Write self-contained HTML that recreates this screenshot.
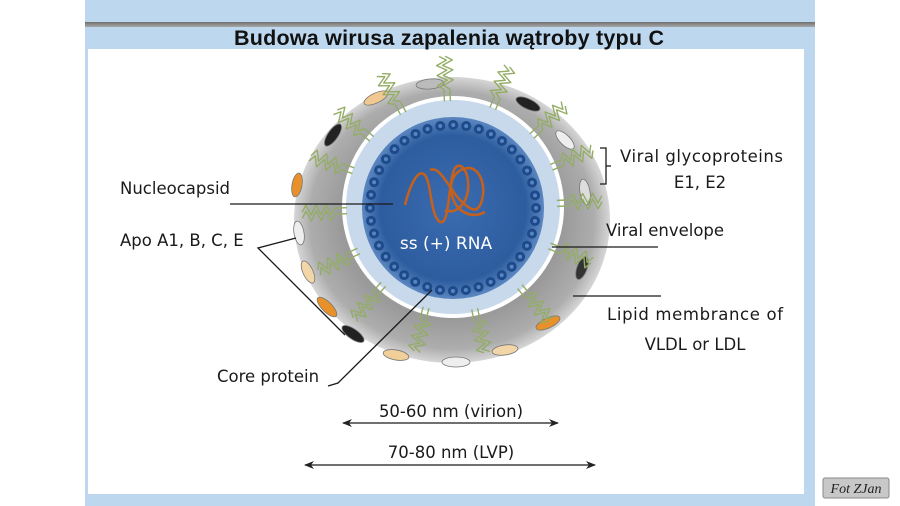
<!DOCTYPE html>
<html><head><meta charset="utf-8"><style>
html,body{margin:0;padding:0;width:900px;height:506px;overflow:hidden;background:#fff;}
</style></head><body>
<svg width="900" height="506" viewBox="0 0 900 506" xmlns="http://www.w3.org/2000/svg" font-family="'DejaVu Sans','Liberation Sans',sans-serif">
<defs>
<radialGradient id="gray" cx="50%" cy="50%" r="50%">
<stop offset="0.7" stop-color="#9a9a9a"/><stop offset="0.9" stop-color="#adadad"/><stop offset="1" stop-color="#d6d6d6"/>
</radialGradient>
<radialGradient id="core" cx="50%" cy="50%" r="50%">
<stop offset="0" stop-color="#3b6cb0"/><stop offset="0.8" stop-color="#2d5d9f"/><stop offset="1" stop-color="#5b86c0"/>
</radialGradient>
<linearGradient id="bar" x1="0" y1="0" x2="0" y2="1"><stop offset="0" stop-color="#6f6f6f"/><stop offset="1" stop-color="#a8a8a8"/></linearGradient>
<g id="gp" fill="none" stroke="#93ad66" stroke-width="1.4" stroke-linejoin="round">
<polyline points="-3,0 -3,-12 -9,-16 1,-21 -9,-26 1,-31 -9,-36 1,-41 -6,-45"/>
<polyline points="3,0 3,-12 -3,-16 7,-21 -3,-26 7,-31 -3,-36 7,-41 0,-45"/>
</g>
<marker id="ah" markerWidth="10" markerHeight="8" refX="9" refY="4" orient="auto-start-reverse" markerUnits="userSpaceOnUse"><path d="M0,0 L10,4 L0,8 L3,4Z" fill="#222"/></marker>
</defs>
<rect x="85" y="0" width="730" height="506" fill="#bdd7ee"/>
<rect x="85" y="22" width="730" height="5" fill="url(#bar)"/>
<rect x="88" y="49" width="716" height="445" fill="#fff"/>
<text x="449" y="45" text-anchor="middle" font-family="'Liberation Sans',sans-serif" font-weight="bold" font-size="21.5" fill="#111" textLength="430">Budowa wirusa zapalenia wątroby typu C</text>

<ellipse cx="452" cy="220" rx="158" ry="143" fill="url(#gray)"/>
<g stroke="#777" stroke-width="0.8">
<ellipse cx="430" cy="84" rx="14" ry="5" fill="#bbb" transform="rotate(-5 430 84)"/>
<ellipse cx="528" cy="104" rx="13" ry="5" fill="#222" transform="rotate(25 528 104)"/>
<ellipse cx="565" cy="140" rx="12" ry="5" fill="#eee" transform="rotate(45 565 140)"/>
<ellipse cx="585" cy="192" rx="13" ry="5" fill="#ddd" transform="rotate(80 585 192)"/>
<ellipse cx="582" cy="268" rx="12" ry="5" fill="#333" transform="rotate(110 582 268)"/>
<ellipse cx="548" cy="323" rx="13" ry="5" fill="#e8902a" transform="rotate(-25 548 323)"/>
<ellipse cx="505" cy="350" rx="13" ry="5" fill="#f2d6a8" transform="rotate(-8 505 350)"/>
<ellipse cx="456" cy="362" rx="14" ry="5" fill="#eee"/>
<ellipse cx="396" cy="355" rx="13" ry="5" fill="#f0cf98" transform="rotate(10 396 355)"/>
<ellipse cx="353" cy="334" rx="13" ry="5" fill="#222" transform="rotate(35 353 334)"/>
<ellipse cx="327" cy="307" rx="13" ry="5" fill="#e8902a" transform="rotate(45 327 307)"/>
<ellipse cx="308" cy="272" rx="12" ry="5" fill="#f2d6a8" transform="rotate(65 308 272)"/>
<ellipse cx="299" cy="233" rx="12" ry="5" fill="#eee" transform="rotate(80 299 233)"/>
<ellipse cx="297" cy="185" rx="12" ry="5" fill="#e8902a" transform="rotate(100 297 185)"/>
<ellipse cx="333" cy="135" rx="13" ry="5" fill="#222" transform="rotate(-55 333 135)"/>
<ellipse cx="376" cy="98" rx="13" ry="5" fill="#f0c890" transform="rotate(-25 376 98)"/>
</g>
<circle cx="453" cy="207" r="111" fill="#fff"/>
<circle cx="453" cy="207" r="107" fill="#c8d9ec"/>
<circle cx="453" cy="208" r="91" fill="url(#core)"/>
<circle cx="453" cy="208" r="83" fill="none" stroke="#1e4a8a" stroke-width="10" stroke-linecap="round" stroke-dasharray="0 13.04"/>
<circle cx="453" cy="208" r="83" fill="none" stroke="#5585c4" stroke-width="4" stroke-linecap="round" stroke-dasharray="0 13.04"/>
<g transform="translate(453,207)">
<use href="#gp" transform="rotate(-3) translate(0,-106)"/>
<use href="#gp" transform="rotate(22) translate(0,-106)"/>
<use href="#gp" transform="rotate(-28) translate(0,-106)"/>
<use href="#gp" transform="rotate(-50) translate(0,-106)"/>
<use href="#gp" transform="rotate(48) translate(0,-106)"/>
<use href="#gp" transform="rotate(68) translate(0,-106)"/>
<use href="#gp" transform="rotate(88) translate(0,-104)"/>
<use href="#gp" transform="rotate(112) translate(0,-104)"/>
<use href="#gp" transform="rotate(140) translate(0,-104)"/>
<use href="#gp" transform="rotate(168) translate(0,-104)"/>
<use href="#gp" transform="rotate(195) translate(0,-104)"/>
<use href="#gp" transform="rotate(222) translate(0,-104)"/>
<use href="#gp" transform="rotate(245) translate(0,-104)"/>
<use href="#gp" transform="rotate(-92) translate(0,-106)"/>
<use href="#gp" transform="rotate(-70) translate(0,-106)"/>
</g>
<g fill="none" stroke="#c8601a" stroke-width="2.5" stroke-linejoin="round">
<path d="M405,205 C410,185 418,168 425,175 C432,185 430,215 440,222 C450,226 448,180 455,168 C462,160 470,175 468,190 C466,205 455,215 445,210"/>
<path d="M430,170 C440,165 450,190 460,200 C470,210 478,215 482,200 C486,185 480,170 470,168 C458,168 448,178 452,195 C455,210 470,220 485,212"/>
</g>
<text x="446" y="249" text-anchor="middle" font-size="17" fill="#fff">ss (+) RNA</text>

<g font-size="16.5" fill="#1a1a1a">
<text x="120" y="194">Nucleocapsid</text>
<text x="120" y="246">Apo A1, B, C, E</text>
<text x="217" y="382">Core protein</text>
<text x="620" y="162" textLength="163">Viral glycoproteins</text>
<text x="700" y="188" text-anchor="middle">E1, E2</text>
<text x="606" y="236">Viral envelope</text>
<text x="607" y="320" textLength="176">Lipid membrance of</text>
<text x="695" y="350" text-anchor="middle">VLDL or LDL</text>
<text x="451" y="417" text-anchor="middle">50-60 nm (virion)</text>
<text x="451" y="458" text-anchor="middle">70-80 nm (LVP)</text>
</g>
<g stroke="#1a1a1a" stroke-width="1.3" fill="none">
<line x1="230" y1="204" x2="393" y2="204"/>
<polyline points="296,238 258,248 345,335"/>
<polyline points="328,386 338,383 432,290"/>
<polyline points="600,148 606,148 606,184 600,184"/>
<line x1="606" y1="166" x2="611" y2="166"/>
<line x1="552" y1="247" x2="658" y2="247"/>
<line x1="573" y1="296" x2="661" y2="296"/>
<line x1="343" y1="423" x2="558" y2="423" marker-start="url(#ah)" marker-end="url(#ah)"/>
<line x1="305" y1="465" x2="595" y2="465" marker-start="url(#ah)" marker-end="url(#ah)"/>
</g>

<rect x="823" y="478" width="66" height="20" fill="#c8c8c8" stroke="#888" rx="2"/>
<text x="856" y="493" text-anchor="middle" font-family="'Liberation Serif',serif" font-style="italic" font-size="14" fill="#222">Fot ZJan</text>
</svg>
</body></html>
